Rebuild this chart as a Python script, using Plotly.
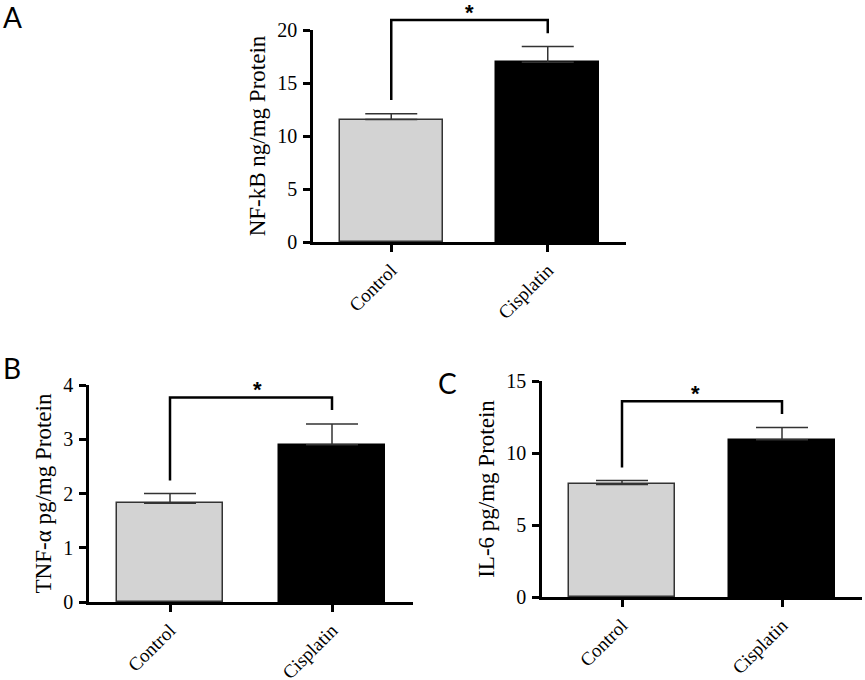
import plotly.graph_objects as go

# group names and values (mean and upper error)
categories = ['Control', 'Cisplatin']

nfkb_mean = [11.55, 16.95]
nfkb_err = [0.55, 1.5]
tnf_mean = [1.82, 2.90]
tnf_err = [0.18, 0.38]
il6_mean = [7.82, 10.92]
il6_err = [0.27, 0.85]

# significance bracket: level, left leg end, right leg end
nfkb_bracket = [20.95, 13.4, 19.7]
tnf_bracket = [3.77, 2.24, 3.54]
il6_bracket = [13.6, 9.0, 12.7]

W, H = 865, 680
SERIF = 'Liberation Serif'
SANS = 'Lato'

# panel boxes in pixels: left, right, top, bottom
panels = [
    dict(name='A', ax='', box=(313, 626, 30, 242), ymax=20, dtick=5,
         title='NF-kB ng/mg Protein', mean=nfkb_mean, err=nfkb_err,
         bracket=nfkb_bracket, letter=(1, -2)),
    dict(name='B', ax='2', box=(89, 413, 385, 602), ymax=4, dtick=1,
         title='TNF-α pg/mg Protein', mean=tnf_mean, err=tnf_err,
         bracket=tnf_bracket, letter=(1, 349)),
    dict(name='C', ax='3', box=(542, 862, 381, 597), ymax=15, dtick=5,
         title='IL-6 pg/mg Protein', mean=il6_mean, err=il6_err,
         bracket=il6_bracket, letter=(436, 364)),
]

XRANGE = [-0.5, 1.5]


def paper_x(panel, xv):
    left, right, _, _ = panel['box']
    frac = (xv - XRANGE[0]) / (XRANGE[1] - XRANGE[0])
    return (left + frac * (right - left)) / W


def paper_y(panel, yv):
    _, _, top, bottom = panel['box']
    frac = yv / panel['ymax']
    return 1 - (bottom - frac * (bottom - top)) / H


fig = go.Figure()
shapes = []
annotations = []

for p in panels:
    left, right, top, bottom = p['box']
    fig.add_trace(go.Bar(
        x=[0, 1],
        y=p['mean'],
        width=0.66,
        marker=dict(color=['#d3d3d3', '#000000'],
                    line=dict(color=['#333333', '#000000'], width=1.5)),
        error_y=dict(type='data', symmetric=False, array=p['err'],
                     arrayminus=[0, 0], color='#333333', thickness=1.5,
                     width=26),
        showlegend=False,
        xaxis='x' + p['ax'],
        yaxis='y' + p['ax']))

    axis_style = dict(
        showline=True, linecolor='black', linewidth=2.5,
        ticks='outside', ticklen=7, tickwidth=2.5, tickcolor='black',
        showgrid=False, zeroline=False, automargin=False)
    fig.update_layout(**{
        'xaxis' + p['ax']: dict(
            axis_style, domain=[left / W, right / W], range=XRANGE,
            tickvals=[0, 1], ticktext=categories, tickangle=-45,
            ticklabelstandoff=0,
            tickfont=dict(family=SERIF, size=19, color='black'),
            anchor='y' + p['ax']),
        'yaxis' + p['ax']: dict(
            axis_style, domain=[1 - bottom / H, 1 - top / H],
            range=[0, p['ymax']], dtick=p['dtick'], ticklabelstandoff=2,
            tickfont=dict(family=SERIF, size=20, color='black'),
            title=dict(text=p['title'], standoff=6,
                       font=dict(family=SERIF, size=23, color='black')),
            anchor='x' + p['ax']),
    })

    level, left_end, right_end = p['bracket']
    x0, x1 = paper_x(p, 0), paper_x(p, 1)
    shapes.append(dict(
        type='path', xref='paper', yref='paper',
        path=f'M {x0},{paper_y(p, left_end)} L {x0},{paper_y(p, level)} '
             f'L {x1},{paper_y(p, level)} L {x1},{paper_y(p, right_end)}',
        line=dict(color='black', width=2.5)))
    annotations.append(dict(
        x=(x0 + x1) / 2, y=paper_y(p, level), xref='paper', yref='paper',
        text='<b>*</b>', showarrow=False, yanchor='bottom', yshift=-7,
        font=dict(family='Liberation Sans', size=22, color='black')))
    annotations.append(dict(
        x=p['letter'][0] / W, y=1 - p['letter'][1] / H,
        xref='paper', yref='paper', xanchor='left', yanchor='top',
        text=p['name'], showarrow=False,
        font=dict(family=SANS, size=28, color='black')))

fig.update_layout(
    width=W, height=H,
    margin=dict(l=0, r=0, t=0, b=0, autoexpand=False),
    plot_bgcolor='white',
    paper_bgcolor='white',
    bargap=0,
    shapes=shapes,
    annotations=annotations)

# drop the browser's default page margin so the figure sits at the corner
fig.write_html('out.html',
               config={'displayModeBar': False},
               post_script="document.body.style.margin = '0';")
